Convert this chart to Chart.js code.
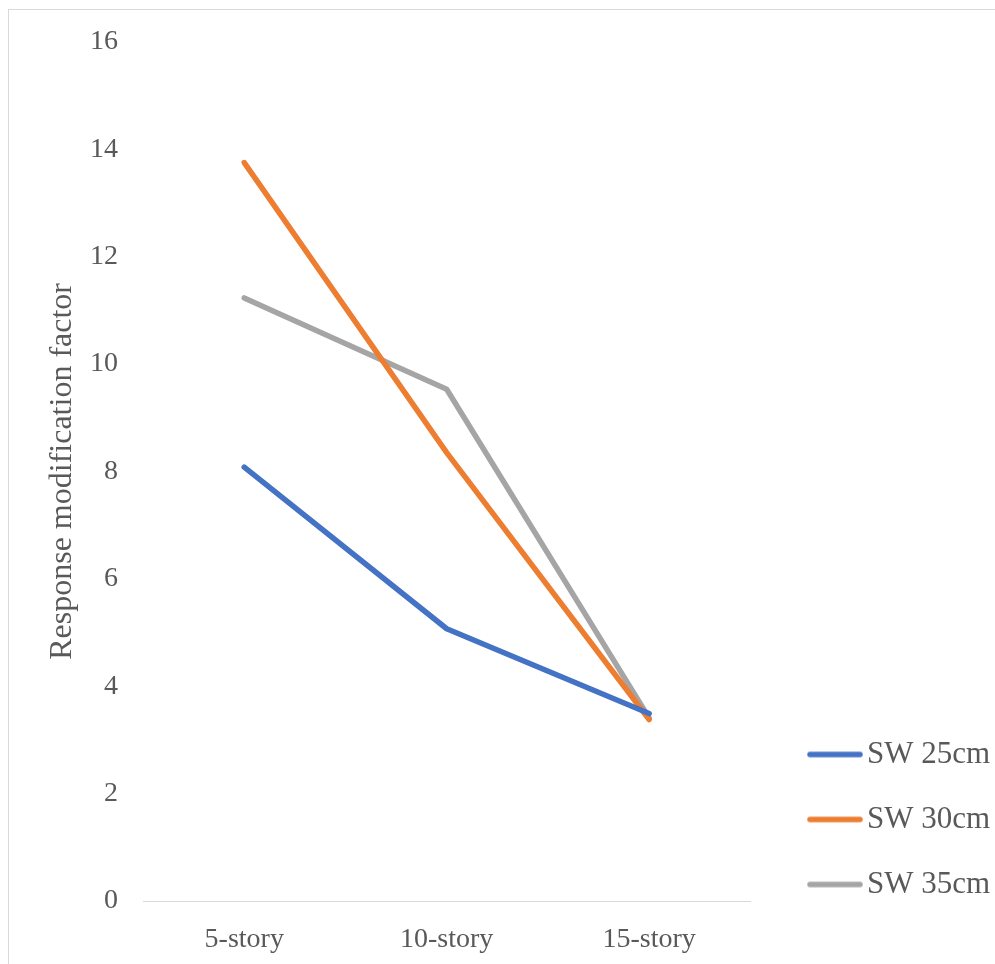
<!DOCTYPE html>
<html>
<head>
    <title>Response modification factor</title>
    <script src="https://cdn.jsdelivr.net/npm/chart.js"></script>
    <style>
        body { margin: 0; background: #fff; }
        #frame {
            position: absolute; left: 8px; top: 9px;
            width: 1000px; height: 970px;
            border: 1px solid #d9d9d9;
        }
        #wrap { position: absolute; left: 0; top: 0; width: 995px; height: 964px; }
    </style>
</head>
<body>
    <div id="frame"></div>
    <div id="wrap"><canvas id="rChart"></canvas></div>

    <script>
        const stories = ['5-story', '10-story', '15-story'];
        const sw25 = [8.08, 5.07, 3.49];
        const sw30 = [13.75, 8.35, 3.38];
        const sw35 = [11.23, 9.53, 3.41];
        const yTicks = [0, 2, 4, 6, 8, 10, 12, 14, 16];

        const textColor = '#595959';
        const serif = 'Liberation Serif';

        // legend swatch: a short thick line with round ends
        function swatch(color) {
            const c = document.createElement('canvas');
            c.width = 56;
            c.height = 8;
            const g = c.getContext('2d');
            g.strokeStyle = color;
            g.lineWidth = 5.5;
            g.lineCap = 'round';
            g.beginPath();
            g.moveTo(3, 4);
            g.lineTo(53, 4);
            g.stroke();
            return c;
        }

        function line(label, data, color) {
            return {
                label: label,
                data: data,
                borderColor: color,
                backgroundColor: color,
                borderWidth: 5.5,
                borderCapStyle: 'round',
                borderJoinStyle: 'round',
                pointRadius: 0,
                pointStyle: swatch(color),
                tension: 0
            };
        }

        // nudge the legend to where it sits in the original
        const legendShift = {
            id: 'legendShift',
            afterLayout(chart) {
                const lg = chart.legend;
                lg.left = 784.5;
                lg.right = 995;
                lg.width = lg.right - lg.left;
                lg.bottom -= 30;
            }
        };

        const ctx = document.getElementById('rChart').getContext('2d');
        const rChart = new Chart(ctx, {
            type: 'line',
            data: {
                labels: stories,
                datasets: [
                    line('SW 25cm', sw25, '#4472C4'),
                    line('SW 30cm', sw30, '#ED7D31'),
                    line('SW 35cm', sw35, '#A5A5A5')
                ]
            },
            options: {
                responsive: true,
                maintainAspectRatio: false,
                animation: false,
                layout: { padding: { top: 41, right: 29, left: 0, bottom: 0 } },
                plugins: {
                    tooltip: { enabled: false },
                    legend: {
                        position: 'right',
                        align: 'end',
                        labels: {
                            usePointStyle: true,
                            pointStyleWidth: 33,
                            padding: 34,
                            color: textColor,
                            font: { family: serif, size: 31 }
                        }
                    }
                },
                scales: {
                    x: {
                        offset: true,
                        grid: { display: false, drawTicks: false },
                        border: { display: true, color: '#d9d9d9', width: 1 },
                        ticks: {
                            padding: 22,
                            color: textColor,
                            font: { family: serif, size: 28 },
                            maxRotation: 0
                        },
                        afterFit(scale) { scale.height = 63; }
                    },
                    y: {
                        min: 0,
                        max: 16,
                        afterBuildTicks(scale) {
                            scale.ticks = yTicks.map(v => ({ value: v }));
                        },
                        grid: { display: false, drawTicks: false },
                        border: { display: false },
                        ticks: {
                            padding: 25,
                            color: textColor,
                            font: { family: serif, size: 28 }
                        },
                        title: {
                            display: true,
                            text: 'Response modification factor',
                            color: textColor,
                            font: { family: serif, size: 32 },
                            padding: { top: 43, bottom: 0 }
                        },
                        afterFit(scale) { scale.width = 143; }
                    }
                }
            },
            plugins: [legendShift]
        });
    </script>
</body>
</html>
